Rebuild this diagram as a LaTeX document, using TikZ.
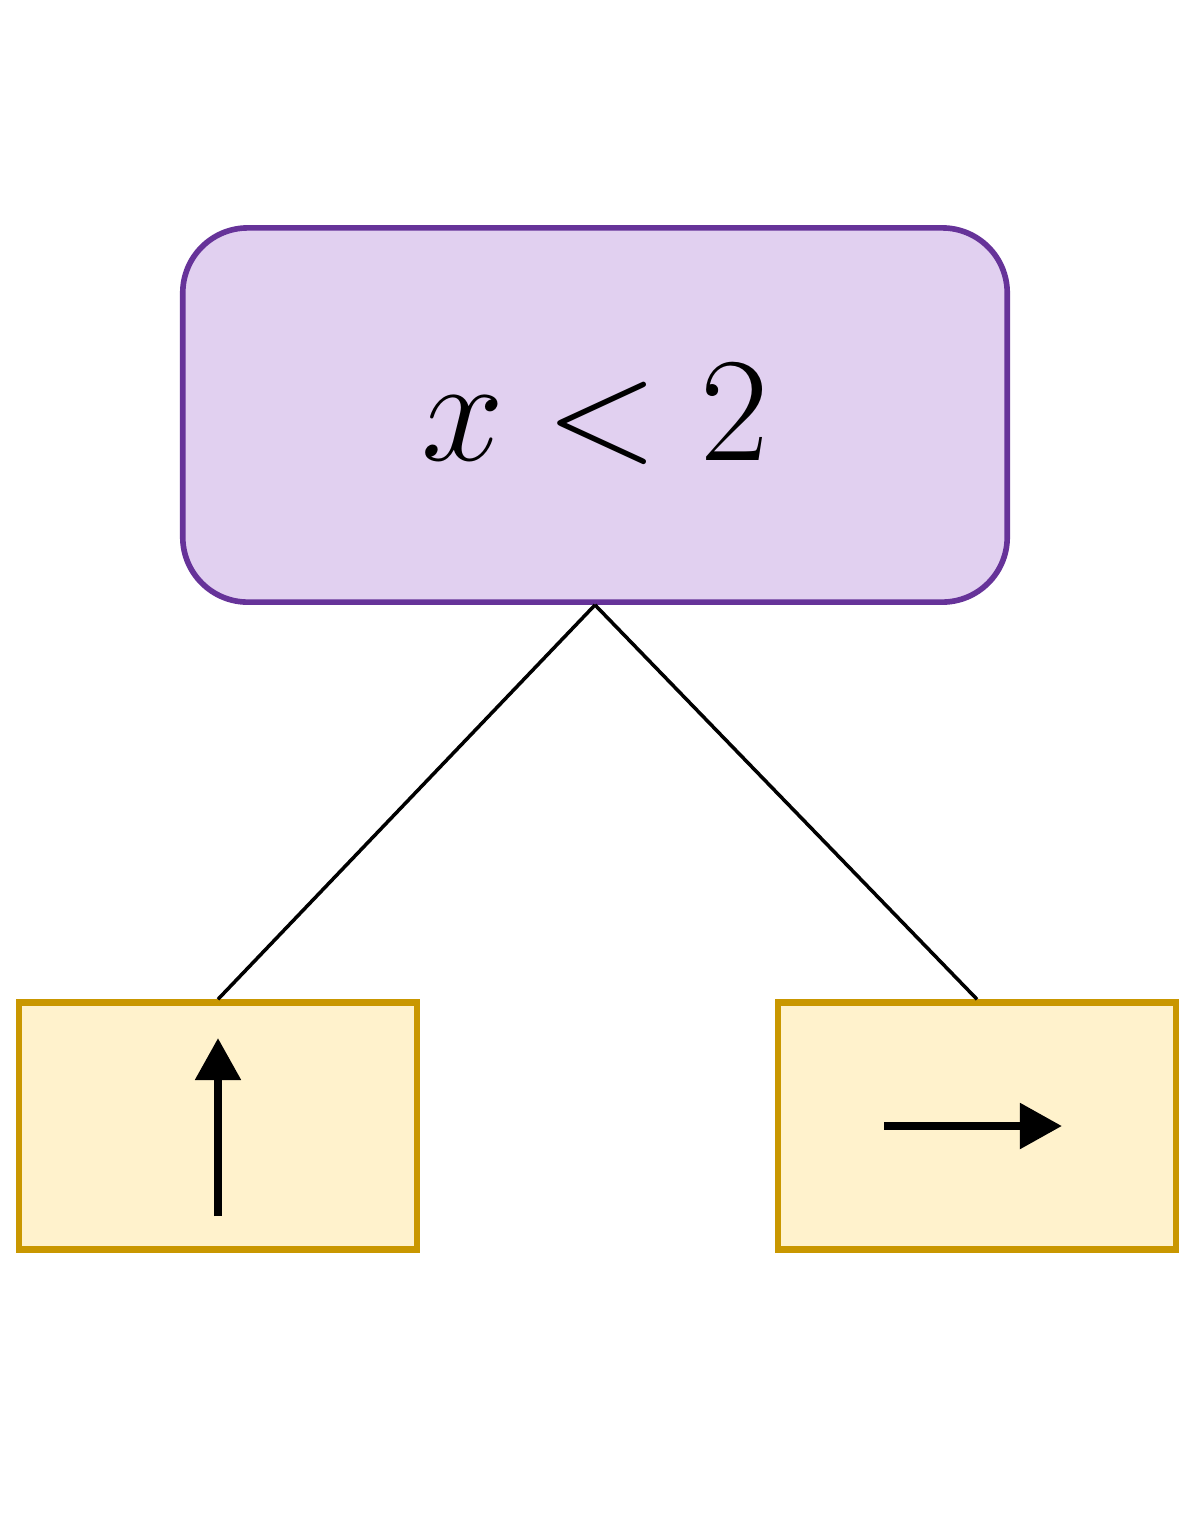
\documentclass[tikz,border=0pt]{standalone}
\usepackage{tikz}
\usetikzlibrary{arrows.meta, positioning}

\definecolor{condfill}{HTML}{E1D0F0}
\definecolor{conddraw}{HTML}{663399}
\definecolor{leaffill}{HTML}{FFF2CC}
\definecolor{leafdraw}{HTML}{C99700}

\begin{document}
\begin{tikzpicture}[
        x=0.01cm, y=-0.01cm,
        cond/.style={rectangle, draw=conddraw, fill=condfill, line width=1.6pt, rounded corners=0.65cm, minimum width=8.24cm, minimum height=3.74cm, font=\fontsize{40}{48}\selectfont},
        leaf/.style={rectangle, draw=leafdraw, fill=leaffill, line width=1.8pt, minimum width=3.98cm, minimum height=2.47cm},
        link/.style={line width=1pt},
        move/.style={-{Triangle[length=0.42cm, width=0.44cm]}, line width=2.4pt}
    ]
    \useasboundingbox (0,0) rectangle (1196,1532);

    % Nodes
    \node[cond] (split) at (595,415) {\scalebox{1.7}{$x < 2$}};
    \node[leaf] (left_leaf) at (218,1126) {};
    \node[leaf] (right_leaf) at (977,1126) {};

    % Connections
    \draw[link] (split.south) -- (left_leaf.north);
    \draw[link] (split.south) -- (right_leaf.north);

    % Leaf actions
    \draw[move] (218,1216) -- (218,1038);
    \draw[move] (884,1126) -- (1062,1126);
\end{tikzpicture}
\end{document}
